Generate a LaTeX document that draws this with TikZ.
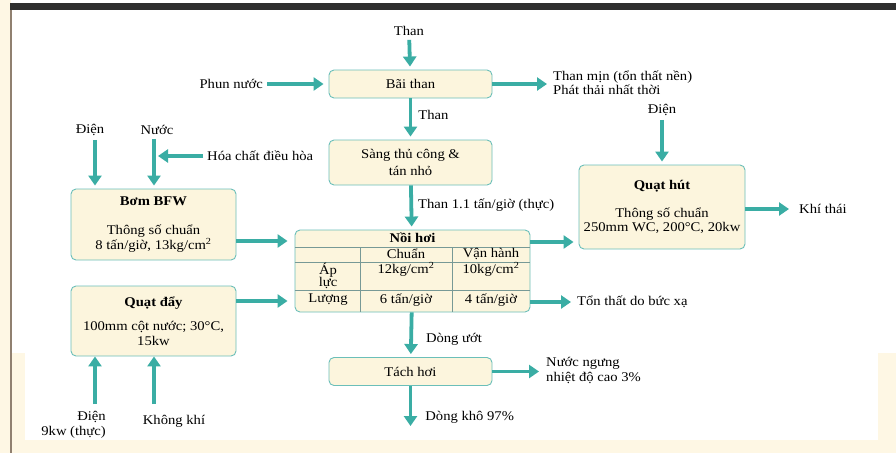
\documentclass[tikz,border=0pt]{standalone}
\usepackage{fontspec}
\setmainfont{Liberation Serif}[FakeStretch=1.1]
\usetikzlibrary{arrows.meta}
\definecolor{flowteal}{HTML}{3AADA4}
\definecolor{boxedge}{HTML}{6BBFB9}
\definecolor{boxfill}{HTML}{FCF5DD}
\definecolor{pagecream}{HTML}{FEF7E4}
\definecolor{barsmoke}{HTML}{2F2F2F}
\tikzset{
  box/.style={draw=boxedge,fill=boxfill,line width=0.9pt,rounded corners=5pt,align=center,inner sep=2pt},
  flow/.style={draw=flowteal,line width=3.8pt,-{Triangle[length=10pt,width=13pt]},shorten >=3pt},
  lbl/.style={inner sep=1pt,align=left},
  tline/.style={draw=gray!60!boxedge,line width=0.6pt}
}

\begin{document}
\begin{tikzpicture}[x=1pt,y=-1pt,font=\fontsize{13.3}{14.5}\selectfont]
       \useasboundingbox (0,0) rectangle (896,453);
       \fill[pagecream] (0,0) rectangle (896,453);
       \fill[white] (11,0) rectangle (896,353);
       \fill[white] (25,353) rectangle (878,440);
       \fill[barsmoke] (10,3) rectangle (896,10);
       \draw[gray!75!brown,line width=1.5pt] (11,10) -- (11,453);

       \node[box,minimum width=163,minimum height=28] (bai) at (410.5,84) {Bãi than};
       \node[box,minimum width=163,minimum height=45] (sang) at (410.5,162.5) {Sàng thủ công \&\\[2pt]tán nhỏ};
       \node[box,minimum width=235,minimum height=82] (boiler) at (412.5,271) {};
       \node[box,minimum width=163,minimum height=28] (tach) at (410.5,371.5) {Tách hơi};
       \node[box,minimum width=165,minimum height=71] (bfw) at (153.5,224.5)
         {\textbf{Bơm BFW}\\[15pt]Thông số chuẩn\\8 tấn/giờ, 13kg/cm\textsuperscript{2}};
       \node[box,minimum width=165,minimum height=70] (qday) at (153.5,321)
         {\textbf{Quạt đẩy}\\[10pt]100mm cột nước; 30°C,\\15kw};
       \node[box,minimum width=166,minimum height=84] (qhut) at (662,207)
         {\textbf{Quạt hút}\\[13pt]Thông số chuẩn\\250mm WC, 200°C, 20kw};

       \foreach \yy in {247,262,290}
         \draw[tline] (boiler.west |- 0,\yy) -- (boiler.east |- 0,\yy);
       \foreach \xx in {360,452}
         \draw[tline] (\xx,247) -- (boiler.south -| \xx,0);
       \node[lbl] (nhtitle) at (412.5,238) {\textbf{Nồi hơi}};
       \node[lbl] (colstd) at (406,254) {Chuẩn};
       \node[lbl] (colrun) at (491,254) {Vận hành};
       \node[lbl,align=center,font=\fontsize{13.3}{12.5}\selectfont] (rowp) at (328,276) {Áp\\lực};
       \node[lbl] (pstd) at (406,269) {12kg/cm\textsuperscript{2}};
       \node[lbl] (prun) at (491,269) {10kg/cm\textsuperscript{2}};
       \node[lbl] (rowq) at (328,300) {Lượng};
       \node[lbl] (qstd) at (406,300) {6 tấn/giờ};
       \node[lbl] (qrun) at (491,300) {4 tấn/giờ};

       \node[lbl] (than0) at (409,31) {Than};
       \node[lbl,anchor=east] (phun) at (264,84) {Phun nước};
       \node[lbl,anchor=west] (thanmin) at (552,82.5) {Than mịn (tổn thất nền)\\Phát thải nhất thời};
       \node[lbl] (dienB) at (90,130) {Điện};
       \node[lbl] (nuocB) at (157,130) {Nước};
       \node[lbl,anchor=west] (hoachat) at (206,156) {Hóa chất điều hòa};
       \node[lbl] (dienH) at (662,110) {Điện};
       \node[lbl,anchor=west] (khithai) at (798,209) {Khí thái};
       \node[lbl,anchor=west] (lossrad) at (576,302) {Tổn thất do bức xạ};
       \node[lbl,anchor=west] (ngung) at (545,370.5) {Nước ngưng\\nhiệt độ cao 3\%};
       \node[lbl,align=right,anchor=east] (dienD) at (107,425) {Điện\\9kw (thực)};
       \node[lbl] (khongkhi) at (174,421) {Không khí};
       \coordinate (dryend) at (410.5,429);
       \coordinate (dienDin) at (95,404);
       \coordinate (kkin) at (154,404);

       \draw[flow,shorten <=3pt] (than0) -- (bai);
       \draw[flow,shorten <=3pt,shorten >=5pt] (phun) -- (bai);
       \draw[flow,shorten >=5pt] (bai.east) -- (bai.east -| thanmin.west);
       \draw[flow] (bai) -- node[lbl,right=5pt,pos=0.4] (lblthan1) {Than} (sang);
       \draw[flow] (sang) -- node[lbl,right=4pt,pos=0.45] (lblthan2) {Than 1.1 tấn/giờ (thực)} (boiler);
       \draw[flow,shorten <=3pt] ([xshift=5pt]dienB.south) -- ([xshift=5pt]dienB.south |- bfw.north);
       \draw[flow,shorten <=3pt] ([xshift=-3pt]nuocB.south) -- ([xshift=-3pt]nuocB.south |- bfw.north);
       \draw[flow,shorten <=3pt,shorten >=4pt] (hoachat.west) -- ([xshift=-3pt]nuocB.south |- hoachat.west);
       \draw[flow,shorten >=7pt] ([yshift=-16.5pt]bfw.east) -- ([yshift=-16.5pt]bfw.east -| boiler.west);
       \draw[flow,shorten >=7pt] ([yshift=20pt]qday.east) -- ([yshift=20pt]qday.east -| boiler.west);
       \draw[flow,shorten >=5pt] ([yshift=29pt]boiler.east) -- ([yshift=29pt]boiler.east -| qhut.west);
       \draw[flow,shorten >=5pt] ([yshift=-31pt]boiler.east) -- ([yshift=-31pt]boiler.east -| lossrad.west);
       \draw[flow,shorten <=3pt] (dienH) -- (qhut);
       \draw[flow,shorten >=9pt] (qhut.east |- khithai.west) -- (khithai.west);
       \draw[flow] (boiler) -- node[lbl,right=12pt,pos=0.6] (lblwet) {Dòng ướt} (tach);
       \draw[flow,shorten >=6pt] (tach.east) -- (tach.east -| ngung.west);
       \draw[flow] (tach) -- node[lbl,right=12pt,pos=0.72] (lbldry) {Dòng khô 97\%} (dryend);
       \draw[flow,shorten >=0pt] (dienDin) -- (dienDin |- qday.south);
       \draw[flow,shorten >=0pt] (kkin) -- (kkin |- qday.south);
      \end{tikzpicture}
\end{document}
